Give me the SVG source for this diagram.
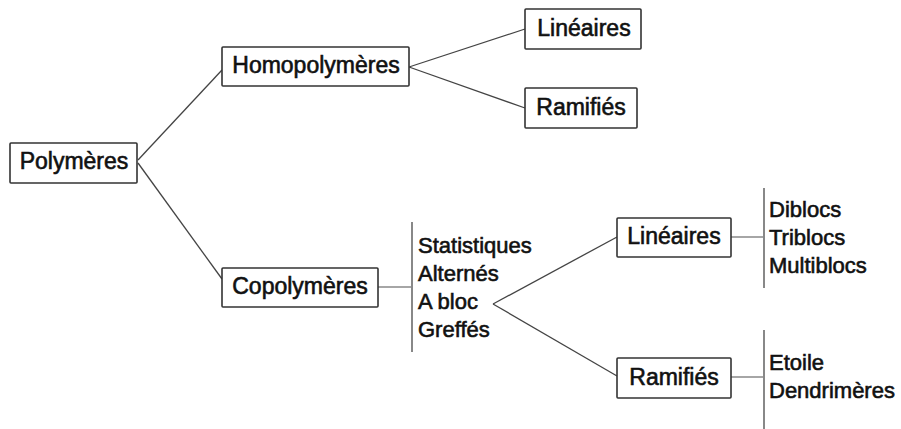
<svg xmlns="http://www.w3.org/2000/svg" width="901" height="429" viewBox="0 0 901 429">
<style>
.box{fill:#fff;stroke:#333;stroke-width:1.6}
.t{font-family:"Liberation Sans",Arial,sans-serif;font-size:23px;fill:#111;stroke:#111;stroke-width:0.6;text-anchor:middle}
.l{font-family:"Liberation Sans",Arial,sans-serif;font-size:22px;fill:#111;stroke:#111;stroke-width:0.6}
.c{stroke:#444;stroke-width:1.3;fill:none}
.g{stroke:#888;stroke-width:1.3;fill:none}
.bar{stroke:#888;stroke-width:2;fill:none}
</style>
<rect width="901" height="429" fill="#fff"/>
<g id="connectors">
<line class="c" x1="138" y1="160" x2="222" y2="70"/>
<line class="c" x1="138" y1="163" x2="222" y2="279"/>
<line class="c" x1="409" y1="67" x2="525" y2="29"/>
<line class="c" x1="409" y1="67" x2="525" y2="108"/>
<line class="g" x1="378" y1="287" x2="412" y2="287"/>
<line class="c" x1="617" y1="237" x2="493" y2="304"/>
<line class="c" x1="493" y1="304" x2="617" y2="376"/>
<line class="g" x1="731" y1="237" x2="764" y2="237"/>
<line class="g" x1="731" y1="377" x2="764" y2="377"/>
<line class="bar" x1="412" y1="222" x2="412" y2="352"/>
<line class="bar" x1="764" y1="188" x2="764" y2="288"/>
<line class="bar" x1="764" y1="330" x2="764" y2="429"/>
</g>
<g id="polymeres"><rect class="box" x="10" y="143" width="127" height="40" rx="1"/><text class="t" x="74" y="169">Polymères</text></g>
<g id="homopolymeres"><rect class="box" x="222" y="47" width="187" height="39" rx="1"/><text class="t" x="316" y="73">Homopolymères</text></g>
<g id="homo-lineaires"><rect class="box" x="525" y="9" width="116" height="40" rx="1"/><text class="t" x="584" y="36">Linéaires</text></g>
<g id="homo-ramifies"><rect class="box" x="525" y="88" width="112" height="40" rx="1"/><text class="t" x="581" y="115">Ramifiés</text></g>
<g id="copolymeres"><rect class="box" x="222" y="268" width="156" height="39" rx="1"/><text class="t" x="300" y="294">Copolymères</text></g>
<g id="co-types"><text class="l" x="418" y="253">Statistiques</text><text class="l" x="418" y="281">Alternés</text><text class="l" x="418" y="309">A bloc</text><text class="l" x="418" y="337">Greffés</text></g>
<g id="co-lineaires"><rect class="box" x="617" y="218" width="114" height="39" rx="1"/><text class="t" x="674" y="244">Linéaires</text></g>
<g id="co-ramifies"><rect class="box" x="617" y="358" width="114" height="40" rx="1"/><text class="t" x="674" y="385">Ramifiés</text></g>
<g id="co-lin-types"><text class="l" x="769" y="217">Diblocs</text><text class="l" x="769" y="245">Triblocs</text><text class="l" x="769" y="273">Multiblocs</text></g>
<g id="co-ram-types"><text class="l" x="769" y="370">Etoile</text><text class="l" x="769" y="398">Dendrimères</text></g>
</svg>
